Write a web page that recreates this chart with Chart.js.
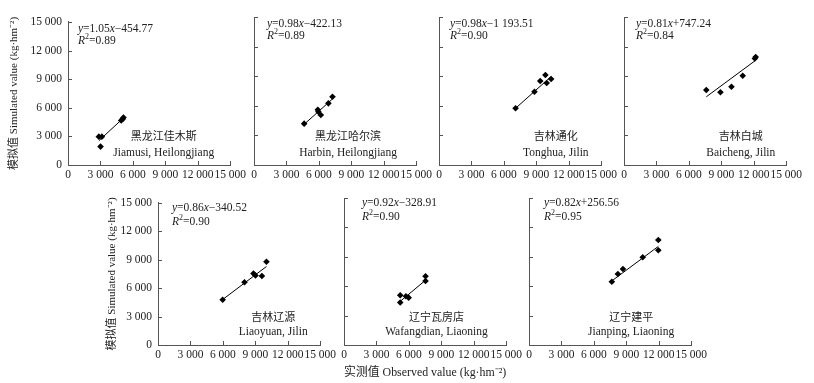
<!DOCTYPE html>
<html>
<head>
<meta charset="utf-8">
<script src="https://cdn.jsdelivr.net/npm/chart.js@4.4.0/dist/chart.umd.min.js"></script>
<style>
    html, body { margin: 0; padding: 0; background: #fff; }
    #wrap { position: relative; width: 814px; height: 383px; overflow: hidden; }
    #wrap canvas { position: absolute; }
</style>
</head>
<body>
<div id="wrap"></div>
<script>
// axis ticks, same on both axes of every panel
const axisTicks = [0, 3000, 6000, 9000, 12000, 15000];

const siteNamesCn = ['黑龙江佳木斯', '黑龙江哈尔滨', '吉林通化', '吉林白城', '吉林辽源', '辽宁瓦房店', '辽宁建平'];
const siteNamesEn = ['Jiamusi, Heilongjiang', 'Harbin, Heilongjiang', 'Tonghua, Jilin', 'Baicheng, Jilin',
    'Liaoyuan, Jilin', 'Wafangdian, Liaoning', 'Jianping, Liaoning'];

// fitted lines y = a*x + b and R2, as printed on each panel
const slopes = [1.05, 0.98, 0.98, 0.81, 0.86, 0.92, 0.82];
const intercepts = [-454.77, -422.13, -1193.51, 747.24, -340.52, -328.91, 256.56];
const rSquared = ['0.89', '0.89', '0.90', '0.84', '0.90', '0.90', '0.95'];

// observed (x) and simulated (y) yields, kg/hm2
const jiamusiObs = [2850, 3130, 3010, 4920, 5060, 5130];
const jiamusiSim = [2970, 2970, 1930, 4660, 4830, 4970];
const harbinObs = [4640, 5900, 5950, 6180, 6880, 7260];
const harbinSim = [4190, 5600, 5400, 5070, 6250, 6920];
const tonghuaObs = [7080, 8830, 9360, 9840, 9960, 10370];
const tonghuaSim = [5750, 7430, 8510, 9120, 8310, 8710];
const baichengObs = [7610, 8920, 9940, 10980, 12100, 12180];
const baichengSim = [7600, 7370, 7930, 9050, 10800, 10950];
const liaoyuanObs = [5980, 8000, 8830, 9020, 9610, 10030];
const liaoyuanSim = [4770, 6630, 7550, 7340, 7290, 8780];
const wafangdianObs = [5200, 5200, 5730, 5980, 7540, 7540];
const wafangdianSim = [5070, 4340, 4980, 4830, 7020, 6530];
const jianpingObs = [7660, 8220, 8690, 10520, 11960, 11960];
const jianpingSim = [6460, 7250, 7760, 8950, 9670, 10710];

const observed = [jiamusiObs, harbinObs, tonghuaObs, baichengObs, liaoyuanObs, wafangdianObs, jianpingObs];
const simulated = [jiamusiSim, harbinSim, tonghuaSim, baichengSim, liaoyuanSim, wafangdianSim, jianpingSim];

// page layout of each panel (plot box left/top/height), label placement
const panelLeft = [68, 254, 439, 624, 158, 344, 529];
const panelTop = [17, 17, 17, 17, 198, 198, 198];
const panelHeight = [148, 148, 148, 148, 147, 147, 147];
const labelCenter = [0.59, 0.58, 0.72, 0.72, 0.71, 0.57, 0.63];
const eqOffset = [10, 13, 11, 12, 14, 18, 15];
const PLOT_W = 163;

const serif = '"Liberation Serif", "Times New Roman", "Noto Sans CJK SC", serif';
const cjk = '"Noto Sans CJK SC", "Liberation Serif", sans-serif';
const axisColor = '#555';
const textColor = '#222';
const yTitle = '模拟值 Simulated value (kg·hm⁻²)';
const xTitle = '实测值 Observed value (kg·hm⁻²)';

const groupDigits = (s) => s.replace(/\B(?=(\d{3})+(?!\d))/g, ' ');
const tickText = (v) => groupDigits(String(v));
const interceptText = (b) => {
    const [intPart, dec] = Math.abs(b).toFixed(2).split('.');
    return (b < 0 ? '−' : '+') + groupDigits(intPart) + '.' + dec;
};

// draws a list of [text, fontString, dy] pieces one after the other
const drawRuns = (ctx, runs, x, y) => {
    let cx = x;
    runs.forEach(([t, f, dy]) => {
        ctx.font = f;
        ctx.fillText(t, cx, y + (dy || 0));
        cx += ctx.measureText(t).width;
    });
};

const panelDecor = {
    id: 'panelDecor',
    afterDraw(chart) {
        const o = chart.options.plugins.panelDecor;
        const { ctx, chartArea: a, scales: { x, y } } = chart;
        ctx.save();

        // short inward tick marks
        ctx.strokeStyle = axisColor;
        ctx.lineWidth = 1;
        ctx.beginPath();
        axisTicks.slice(1).forEach(v => {
            const px = Math.round(x.getPixelForValue(v)) + 0.5;
            ctx.moveTo(px, a.bottom);
            ctx.lineTo(px, a.bottom - 4);
            const py = Math.round(y.getPixelForValue(v)) + 0.5;
            ctx.moveTo(a.left, py);
            ctx.lineTo(a.left + 4, py);
        });
        ctx.stroke();

        ctx.fillStyle = textColor;
        ctx.textBaseline = 'middle';
        ctx.textAlign = 'left';
        const i = o.index;
        const ex = a.left + eqOffset[i];
        const norm = '11.5px ' + serif;
        const ital = 'italic 11.5px ' + serif;
        drawRuns(ctx, [
            ['y', ital], ['=' + slopes[i].toFixed(2), norm], ['x', ital], [interceptText(intercepts[i]), norm]
        ], ex, a.top + o.eqY);
        drawRuns(ctx, [
            ['R', ital], ['2', '8px ' + serif, -4], ['=' + rSquared[i], norm]
        ], ex, a.top + o.r2Y);

        ctx.textAlign = 'center';
        const lx = a.left + labelCenter[i] * a.width;
        ctx.font = '11px ' + cjk;
        ctx.fillText(siteNamesCn[i], lx, a.bottom - o.cnY);
        ctx.font = '11.5px ' + serif;
        ctx.fillText(siteNamesEn[i], lx, a.bottom - o.enY);
        ctx.restore();
    }
};

const wrap = document.getElementById('wrap');

observed.forEach((obs, i) => {
    const sim = simulated[i];
    const bottomRow = i >= 4;
    const showY = i === 0 || i === 4;
    const showXTitle = i === 5;
    const yw = i === 0 ? 68 : (i === 4 ? 60 : 6);
    const xh = showXTitle ? 35 : 20;
    const padT = 8, padR = 18;

    const canvas = document.createElement('canvas');
    const w = yw + PLOT_W + padR;
    const h = padT + panelHeight[i] + xh;
    canvas.width = w;
    canvas.height = h;
    canvas.style.width = w + 'px';
    canvas.style.height = h + 'px';
    canvas.style.left = (panelLeft[i] - yw) + 'px';
    canvas.style.top = (panelTop[i] - padT) + 'px';
    wrap.appendChild(canvas);

    const points = obs.map((v, k) => ({ x: v, y: sim[k] }));
    const x0 = Math.min(...obs), x1 = Math.max(...obs);
    const fit = [x0, x1].map(v => ({ x: v, y: slopes[i] * v + intercepts[i] }));

    new Chart(canvas, {
        type: 'scatter',
        data: {
            datasets: [
                {
                    data: points,
                    pointStyle: 'rectRot',
                    pointRadius: 3.3,
                    backgroundColor: '#000',
                    borderColor: '#000',
                    borderWidth: 0
                },
                {
                    type: 'line',
                    data: fit,
                    borderColor: '#000',
                    borderWidth: 1,
                    pointRadius: 0,
                    fill: false
                }
            ]
        },
        options: {
            responsive: false,
            animation: false,
            events: [],
            layout: { padding: { left: 0, top: padT, right: padR, bottom: 0 } },
            plugins: {
                legend: { display: false },
                tooltip: { enabled: false },
                panelDecor: {
                    index: i,
                    eqY: bottomRow ? 5 : 7,
                    r2Y: 19,
                    cnY: bottomRow ? 28 : 29,
                    enY: bottomRow ? 13 : 12
                }
            },
            scales: {
                x: {
                    type: 'linear',
                    min: 0,
                    max: 15000,
                    grid: { display: false, drawTicks: false },
                    border: { display: true, color: axisColor, width: 1 },
                    ticks: {
                        stepSize: 3000,
                        autoSkip: false,
                        maxRotation: 0,
                        padding: 3,
                        color: textColor,
                        font: { family: serif, size: 11.5 },
                        callback: tickText
                    },
                    title: {
                        display: showXTitle,
                        text: xTitle,
                        color: textColor,
                        font: { family: serif, size: 12 },
                        padding: { top: 0, bottom: 0 }
                    },
                    afterFit: s => { s.height = xh; }
                },
                y: {
                    type: 'linear',
                    min: 0,
                    max: 15000,
                    grid: { display: false, drawTicks: false },
                    border: { display: true, color: axisColor, width: 1 },
                    ticks: {
                        display: showY,
                        stepSize: 3000,
                        padding: 6,
                        color: textColor,
                        font: { family: serif, size: 11.5 },
                        callback: tickText
                    },
                    title: {
                        display: showY,
                        text: yTitle,
                        color: textColor,
                        font: { family: serif, size: 11 },
                        padding: { top: 8, bottom: 0 }
                    },
                    afterFit: s => { s.width = yw; }
                }
            }
        },
        plugins: [panelDecor]
    });
});
</script>
</body>
</html>
